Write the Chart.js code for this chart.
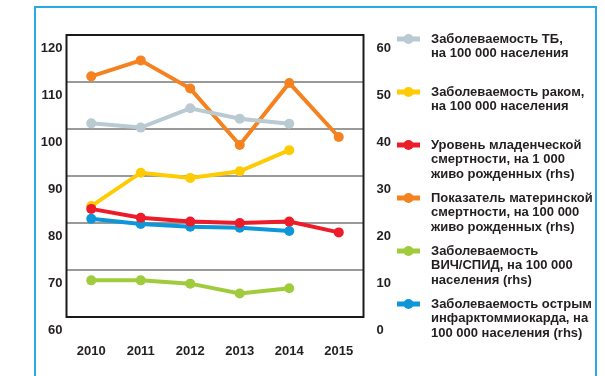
<!DOCTYPE html>
<html>
<head>
<meta charset="utf-8">
<script src="https://cdn.jsdelivr.net/npm/chart.js@4"></script>
<style>
  html, body { margin: 0; padding: 0; background: #fff; overflow: hidden; }
  #wrap { position: relative; width: 605px; height: 376px; }
  #frame {
    position: absolute; left: 34px; top: 6px; width: 559px; height: 400px;
    border: 2px solid #2aaae2;
  }
  canvas { position: absolute; left: 0; top: 0; }
</style>
</head>
<body>
<div id="wrap">
  <div id="frame"></div>
  <canvas id="myChart" width="605" height="376"></canvas>
</div>
<script>
//
// data
//
const years = ['2010', '2011', '2012', '2013', '2014', '2015'];

// left axis
const tbRate = [101.2, 100.3, 104.4, 102.2, 101.1, null];
const cancerRate = [83.6, 90.7, 89.6, 91.0, 95.5, null];

// right axis (rhs)
const infantMort = [23.0, 21.1, 20.3, 20.0, 20.3, 18.0];
const maternalMort = [51.2, 54.6, 48.6, 36.6, 49.8, 38.3];
const hivRate = [7.8, 7.8, 7.1, 5.0, 6.1, null];
const heartRate = [20.9, 19.8, 19.2, 19.0, 18.3, null];

const leftTicks = [60, 70, 80, 90, 100, 110, 120];
const rightTicks = [0, 10, 20, 30, 40, 50, 60];

const legendText = [
    ['Заболеваемость ТБ,', 'на 100 000 населения'],
    ['Заболеваемость раком,', 'на 100 000 населения'],
    ['Уровень младенческой', 'смертности, на 1 000', 'живо рожденных (rhs)'],
    ['Показатель материнской', 'смертности, на 100 000', 'живо рожденных (rhs)'],
    ['Заболеваемость', 'ВИЧ/СПИД, на 100 000', 'населения (rhs)'],
    ['Заболеваемость острым', 'инфарктоммиокарда, на', '100 000 населения (rhs)'],
];

var colors = {
    gray: '#b9cad2',
    yellow: '#ffcb05',
    red: '#ec1c2a',
    orange: '#f58220',
    green: '#9fcb3c',
    blue: '#0d97d8'
};

const FONT = "'Liberation Sans', Arial, sans-serif";

function line(label, data, color, axis, order) {
    return {
        label: label,
        data: data,
        yAxisID: axis,
        borderColor: color,
        backgroundColor: color,
        pointBackgroundColor: color,
        pointBorderWidth: 0,
        pointRadius: 5,
        borderWidth: 4,
        tension: 0,
        fill: false,
        spanGaps: false,
        order: order,
    };
}

let datasets = [
    line(legendText[0], tbRate, colors.gray, 'yL', 3),
    line(legendText[1], cancerRate, colors.yellow, 'yL', 4),
    line(legendText[2], infantMort, colors.red, 'yR', 1),
    line(legendText[3], maternalMort, colors.orange, 'yR', 5),
    line(legendText[4], hivRate, colors.green, 'yR', 6),
    line(legendText[5], heartRate, colors.blue, 'yR', 2),
];

//
// black box round the plot area
//
const boxPlugin = {
    id: 'box',
    afterDatasetsDraw(chart) {
        const a = chart.chartArea;
        const ctx = chart.ctx;
        ctx.save();
        ctx.strokeStyle = '#1a1a1a';
        ctx.lineWidth = 2;
        ctx.strokeRect(a.left, a.top, a.right - a.left, a.bottom - a.top);
        ctx.restore();
    }
};

//
// legend on the right, multi line labels
//
const sideLegend = {
    id: 'sideLegend',
    afterDraw(chart) {
        const ctx = chart.ctx;
        ctx.save();
        ctx.font = 'bold 13px ' + FONT;
        ctx.textBaseline = 'middle';
        chart.data.datasets.forEach((ds, i) => {
            const y = 39 + i * 53;
            ctx.strokeStyle = ds.borderColor;
            ctx.lineWidth = 5;
            ctx.beginPath();
            ctx.moveTo(397, y);
            ctx.lineTo(420, y);
            ctx.stroke();
            ctx.fillStyle = ds.borderColor;
            ctx.beginPath();
            ctx.arc(408.5, y, 5, 0, Math.PI * 2);
            ctx.fill();
            ctx.fillStyle = '#231f20';
            ds.label.forEach((t, j) => ctx.fillText(t, 431, y + j * 14.5));
        });
        ctx.restore();
    }
};

var myChart = new Chart(document.getElementById('myChart').getContext('2d'), {
    type: 'line',
    data: {
        labels: years,
        datasets: datasets,
    },
    plugins: [boxPlugin, sideLegend],
    options: {
        responsive: false,
        animation: false,
        layout: {
            padding: { left: 0, right: 211, top: 35, bottom: 18 }
        },
        plugins: {
            legend: { display: false },
            tooltip: { enabled: false },
        },
        scales: {
            x: {
                offset: true,
                grid: { display: false, drawTicks: false },
                border: { display: false },
                ticks: {
                    padding: 27,
                    color: '#231f20',
                    font: { family: FONT, size: 13, weight: 'bold' },
                },
                afterFit(scale) { scale.height = 41; }
            },
            yL: {
                position: 'left',
                min: leftTicks[0],
                max: leftTicks[leftTicks.length - 1],
                afterBuildTicks(scale) { scale.ticks = leftTicks.map(v => ({ value: v })); },
                grid: { color: '#9a9a9a', lineWidth: 2, drawTicks: false },
                border: { display: false },
                ticks: {
                    padding: 4,
                    labelOffset: 13,
                    color: '#231f20',
                    font: { family: FONT, size: 13, weight: 'bold' },
                },
                afterFit(scale) { scale.width = 66.5; }
            },
            yR: {
                position: 'right',
                min: rightTicks[0],
                max: rightTicks[rightTicks.length - 1],
                afterBuildTicks(scale) { scale.ticks = rightTicks.map(v => ({ value: v })); },
                grid: { drawOnChartArea: false, drawTicks: false },
                border: { display: false },
                ticks: {
                    padding: 13,
                    labelOffset: 13,
                    color: '#231f20',
                    font: { family: FONT, size: 13, weight: 'bold' },
                },
                afterFit(scale) { scale.width = 30.5; }
            },
        },
    },
});
</script>
</body>
</html>
